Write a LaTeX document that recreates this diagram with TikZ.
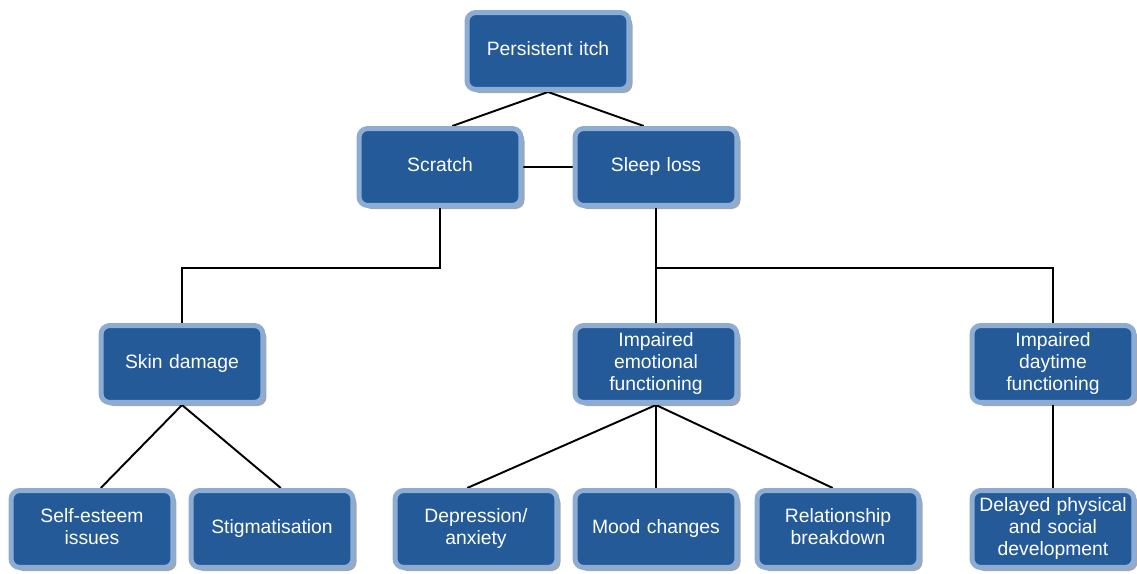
\documentclass[tikz,border=0pt]{standalone}
\usepackage{fontspec}
\setmainfont{Liberation Sans}
\usetikzlibrary{shadows,backgrounds}
\definecolor{boxfill}{RGB}{36,90,152}
\definecolor{boxedge}{RGB}{141,172,212}
\tikzset{
  itembox/.style={draw=boxedge, line width=2.85pt, fill=boxfill, rounded corners=5pt,
    minimum width=3.24cm, minimum height=1.54cm, text width=3.1cm, align=center,
    text=white, inner sep=1pt, font=\fontsize{11}{12.4}\selectfont,
    execute at begin node=\strut, execute at end node=\strut,
    drop shadow={shadow xshift=2pt, shadow yshift=-2pt, opacity=0.35, fill=black}},
  link/.style={line width=1.1pt, black}
}
\begin{document}
\begin{tikzpicture}[x=0.02cm, y=-0.02cm]
			\useasboundingbox (0,0) rectangle (1137,574);
			\node[itembox] (itch) at (548,51) {Persistent itch};
			\node[itembox] (scratch) at (440,167) {Scratch};
			\node[itembox] (sleep) at (656,167) {Sleep loss};
			\node[itembox] (skin) at (182,364) {Skin damage};
			\node[itembox] (emotional) at (656,364) {Impaired\\emotional\\functioning};
			\node[itembox] (daytime) at (1053,364) {Impaired\\daytime\\functioning};
			\node[itembox] (esteem) at (92,529) {Self-esteem\\issues};
			\node[itembox] (stigma) at (272,529) {Stigmatisation};
			\node[itembox] (depression) at (476,529) {Depression/\\anxiety};
			\node[itembox] (mood) at (656,529) {Mood changes};
			\node[itembox] (relation) at (838,529) {Relationship\\breakdown};
			\node[itembox] (delayed) at (1053,529) {Delayed physical\\and social\\development};
			\begin{scope}[on background layer]
				\draw[link] (itch.south) -- ([xshift=7]scratch.north);
				\draw[link] (itch.south) -- ([xshift=-7]sleep.north);
				\draw[link] (scratch) -- (sleep);
				\draw[link] (scratch.south) -- (scratch.south |- 0,268) -| (skin.north);
				\draw[link] (sleep.south) -- (sleep.south |- 0,268) -| (daytime.north);
				\draw[link] (sleep.south |- 0,268) -- (emotional.north);
				\draw[link] (skin.south) -- ([xshift=5]esteem.north);
				\draw[link] (skin.south) -- ([xshift=5]stigma.north);
				\draw[link] (emotional.south) -- ([xshift=-5]depression.north);
				\draw[link] (emotional.south) -- (mood.north);
				\draw[link] (emotional.south) -- ([xshift=-3]relation.north);
				\draw[link] (daytime.south) -- (delayed.north);
			\end{scope}
		\end{tikzpicture}
\end{document}
